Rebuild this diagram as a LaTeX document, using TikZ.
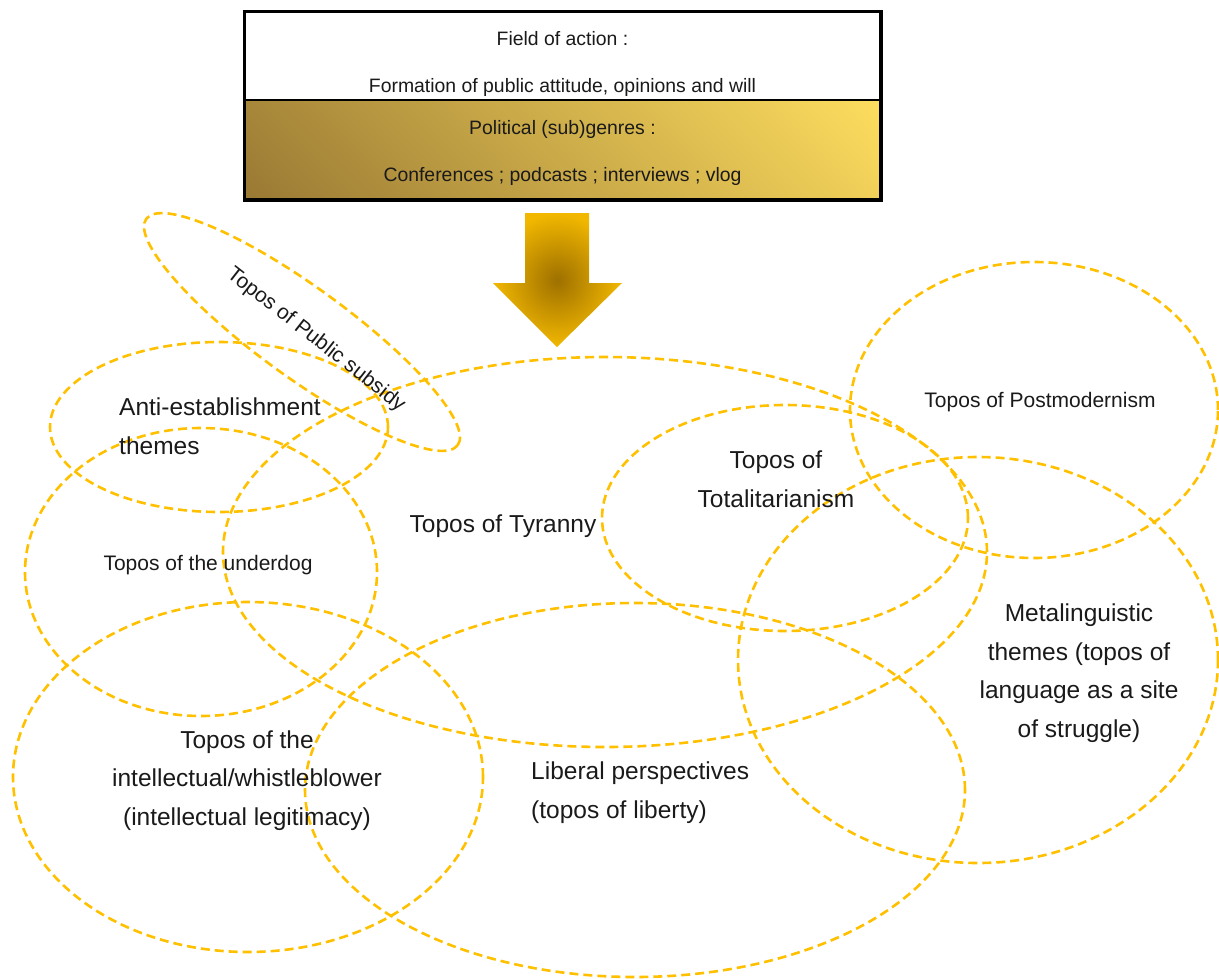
\documentclass[tikz,border=0pt]{standalone}
\usepackage{fontspec}
\setmainfont{Liberation Sans}
\usetikzlibrary{shapes.geometric}
\definecolor{gold}{HTML}{FFC000}
\definecolor{ink}{HTML}{1A1A1A}
\definecolor{genredark}{HTML}{9A7A34}
\definecolor{genrebright}{HTML}{FDDD5E}
\definecolor{arrowdark}{HTML}{9E7000}
\definecolor{arrowgold}{HTML}{F2B800}
% linear ramp used diagonally across the genres panel
\pgfdeclareverticalshading{genreshade}{100bp}{color(0bp)=(genredark); color(15bp)=(genredark); color(85bp)=(genrebright); color(100bp)=(genrebright)}
\begin{document}
\begin{tikzpicture}[x=1pt,y=-1pt,
  topos/.style={draw=gold, line width=2.6pt, dash pattern=on 9pt off 5pt,
    ellipse, inner sep=0pt},
  lbl/.style={text=ink, inner sep=0pt, font=\fontsize{24.5}{38.5}\selectfont},
  lblsm/.style={text=ink, inner sep=0pt, font=\fontsize{21}{30}\selectfont},
  boxtxt/.style={text=ink, inner sep=0pt, font=\fontsize{19.4}{24}\selectfont},
  panel/.style={draw=black, line width=2.5pt, minimum width=635, inner sep=0pt}]
\useasboundingbox (0,0) rectangle (1219,978);

% header panels
\node[panel, fill=white, minimum height=88] (field) at (562.5,56) {};
\node[panel, minimum height=99, shading=genreshade, shading angle=-45] (genres) at (562.5,149.5) {};
\draw[line width=2.5pt] (field.north west) rectangle (genres.south east);
\node[boxtxt, anchor=base] (fieldA) at (562.5,45) {Field of action :};
\node[boxtxt, anchor=base] (fieldB) at (562.5,92) {Formation of public attitude, opinions and will};
\node[boxtxt, anchor=base] (genA) at (562.5,134) {Political (sub)genres :};
\node[boxtxt, anchor=base] (genB) at (562.5,181) {Conferences ; podcasts ; interviews ; vlog};

% downward block arrow
\shade[inner color=arrowdark, outer color=arrowgold]
  (525,213) -- (589,213) -- (589,283) -- (622,283) -- (557,347)
  -- (493,283) -- (525,283) -- cycle;

% topos ellipses
\node[topos, minimum width=385, minimum height=90, rotate=-36] (subsidy) at (302,332) {};
\node[topos, minimum width=338, minimum height=170] (anti) at (219,427) {};
\node[topos, minimum width=352, minimum height=288] (underdog) at (201,572) {};
\node[topos, minimum width=764, minimum height=390] (tyranny) at (605,552) {};
\node[topos, minimum width=366, minimum height=226] (totalit) at (785,518) {};
\node[topos, minimum width=368, minimum height=296] (postmod) at (1034,410) {};
\node[topos, minimum width=480, minimum height=406] (meta) at (978,660) {};
\node[topos, minimum width=660, minimum height=374] (liberal) at (635,790) {};
\node[topos, minimum width=470, minimum height=350] (intel) at (248,777) {};

% labels (multi-line labels are anchored on their last baseline)
\node[lblsm, rotate=-38] (subsidyT) at (316,340) {Topos of Public subsidy};
\node[lbl, align=left, anchor=base west] (antiT) at (119,454) {Anti-establishment\\themes};
\node[lblsm, anchor=base] (underdogT) at (208,570) {Topos of the underdog};
\node[lbl, anchor=base] (tyrannyT) at (503,532) {Topos of Tyranny};
\node[lbl, align=center, anchor=base] (totalitT) at (776,507) {Topos of\\Totalitarianism};
\node[lblsm, anchor=base] (postmodT) at (1040,407) {Topos of Postmodernism};
\node[lbl, align=center, anchor=base] (metaT) at (1079,737) {Metalinguistic\\themes (topos of\\language as a site\\of struggle)};
\node[lbl, align=left, anchor=base west] (liberalT) at (531,818) {Liberal perspectives\\(topos of liberty)};
\node[lbl, align=center, anchor=base] (intelT) at (247,825) {Topos of the\\intellectual/whistleblower\\(intellectual legitimacy)};
\end{tikzpicture}
\end{document}
